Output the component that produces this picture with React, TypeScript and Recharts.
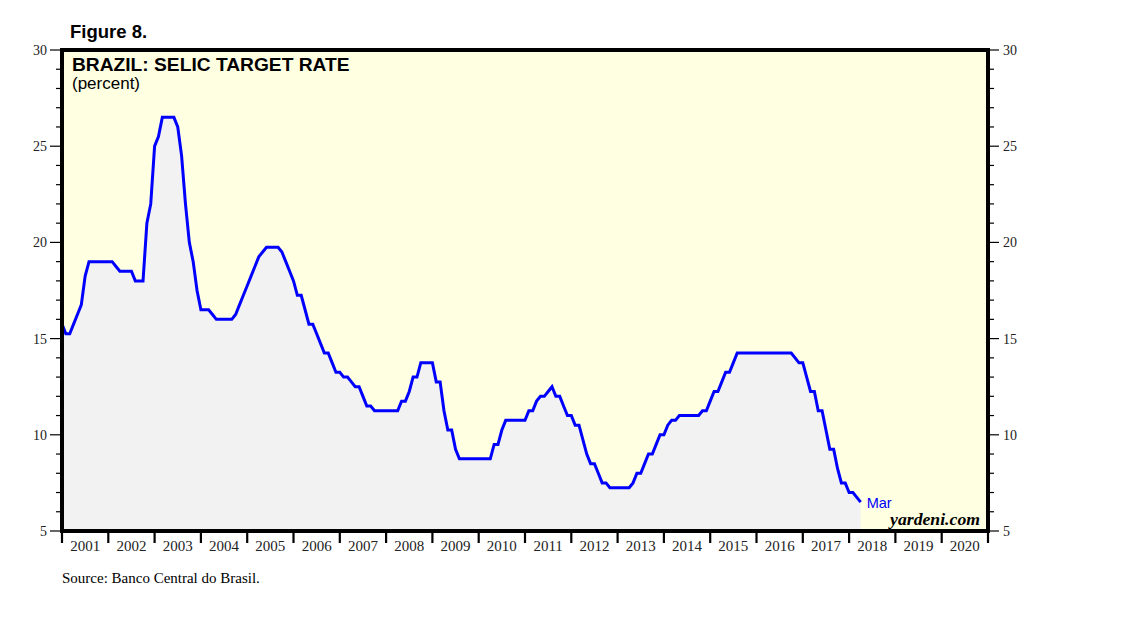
import React from "react";
import {
  Area,
  CartesianGrid,
  ComposedChart,
  ReferenceArea,
  XAxis,
  YAxis,
} from "recharts";

// Selic target rate, value at end of each month, starting Dec 2000
const firstYear = 2000;
const firstMonth = 12;
const selicValues = [
  15.75,
  15.25, 15.25, 15.75, 16.25, 16.75, 18.25, 19, 19, 19, 19, 19, 19,
  19, 18.75, 18.5, 18.5, 18.5, 18.5, 18, 18, 18, 21, 22, 25,
  25.5, 26.5, 26.5, 26.5, 26.5, 26, 24.5, 22, 20, 19, 17.5, 16.5,
  16.5, 16.5, 16.25, 16, 16, 16, 16, 16, 16.25, 16.75, 17.25, 17.75,
  18.25, 18.75, 19.25, 19.5, 19.75, 19.75, 19.75, 19.75, 19.5, 19, 18.5, 18,
  17.25, 17.25, 16.5, 15.75, 15.75, 15.25, 14.75, 14.25, 14.25, 13.75, 13.25, 13.25,
  13, 13, 12.75, 12.5, 12.5, 12, 11.5, 11.5, 11.25, 11.25, 11.25, 11.25,
  11.25, 11.25, 11.25, 11.75, 11.75, 12.25, 13, 13, 13.75, 13.75, 13.75, 13.75,
  12.75, 12.75, 11.25, 10.25, 10.25, 9.25, 8.75, 8.75, 8.75, 8.75, 8.75, 8.75,
  8.75, 8.75, 8.75, 9.5, 9.5, 10.25, 10.75, 10.75, 10.75, 10.75, 10.75, 10.75,
  11.25, 11.25, 11.75, 12, 12, 12.25, 12.5, 12, 12, 11.5, 11, 11,
  10.5, 10.5, 9.75, 9, 8.5, 8.5, 8, 7.5, 7.5, 7.25, 7.25, 7.25,
  7.25, 7.25, 7.25, 7.5, 8, 8, 8.5, 9, 9, 9.5, 10, 10,
  10.5, 10.75, 10.75, 11, 11, 11, 11, 11, 11, 11.25, 11.25, 11.75,
  12.25, 12.25, 12.75, 13.25, 13.25, 13.75, 14.25, 14.25, 14.25, 14.25, 14.25, 14.25,
  14.25, 14.25, 14.25, 14.25, 14.25, 14.25, 14.25, 14.25, 14.25, 14, 13.75, 13.75,
  13, 12.25, 12.25, 11.25, 11.25, 10.25, 9.25, 9.25, 8.25, 7.5, 7.5, 7,
  7, 6.75, 6.5,
];

const yearTicks = [
  2001, 2002, 2003, 2004, 2005, 2006, 2007, 2008, 2009, 2010,
  2011, 2012, 2013, 2014, 2015, 2016, 2017, 2018, 2019, 2020, 2021,
];
const yearLabels = [
  "2001", "2002", "2003", "2004", "2005", "2006", "2007", "2008", "2009", "2010",
  "2011", "2012", "2013", "2014", "2015", "2016", "2017", "2018", "2019", "2020",
];
const rateTicks = [
  5, 6, 7, 8, 9, 10, 11, 12, 13, 14, 15, 16, 17, 18, 19, 20,
  21, 22, 23, 24, 25, 26, 27, 28, 29, 30,
];
const lastLabel = "Mar";

// month end -> fractional year (end of Dec 2000 = 2001.0)
const data = selicValues.map((v, i) => {
  const m = firstMonth + i;
  return { t: firstYear + m / 12, rate: v };
});
const labelTicks = yearLabels.map((_, i) => yearTicks[i] + 0.5);
const xDomain = [yearTicks[0], yearTicks[yearTicks.length - 1]];
const yDomain = [rateTicks[0], rateTicks[rateTicks.length - 1]];

const serif = "'Liberation Serif', 'Times New Roman', serif";
const sans = "'Liberation Sans', Arial, Helvetica, sans-serif";

const LeftTick = ({ x, y, payload }: any) => {
  const major = payload.value % 5 === 0;
  return (
    <g>
      <line x1={x - (major ? 12 : 6)} x2={x} y1={y} y2={y} stroke="#000" strokeWidth={1.2} />
      {major && (
        <text x={x - 15} y={y} dy="0.35em" textAnchor="end" fontFamily={serif} fontSize={14} fill="#222">
          {payload.value}
        </text>
      )}
    </g>
  );
};

const RightTick = ({ x, y, payload }: any) => {
  const major = payload.value % 5 === 0;
  return (
    <g>
      <line x1={x} x2={x + (major ? 11 : 6)} y1={y} y2={y} stroke="#000" strokeWidth={1.2} />
      {major && (
        <text x={x + 15} y={y} dy="0.35em" textAnchor="start" fontFamily={serif} fontSize={14} fill="#222">
          {payload.value}
        </text>
      )}
    </g>
  );
};

const YearTick = ({ x, y }: any) => (
  <line x1={x} x2={x} y1={y - 1} y2={y + 12} stroke="#000" strokeWidth={2.2} />
);

const YearLabel = ({ x, y, payload }: any) => (
  <text x={x} y={y + 19} textAnchor="middle" fontFamily={serif} fontSize={15} fill="#222">
    {Math.floor(payload.value)}
  </text>
);

const EndLabel = (props: any) => {
  if (props.index !== data.length - 1) return null;
  return (
    <text x={props.x + 6} y={props.y} dy="0.38em" fontFamily={sans} fontSize={14.5} fill="#0000ff">
      {lastLabel}
    </text>
  );
};

export default function App() {
  return (
    <div style={{ position: "relative", width: 1130, height: 605 }}>
      <ComposedChart
        width={1060}
        height={580}
        data={data}
        margin={{ top: 42, right: 40, bottom: 26, left: 0 }}
      >
        <CartesianGrid
          xAxisId="a"
          yAxisId="left"
          horizontal={false}
          vertical={false}
          fill="#ffffe2"
          fillOpacity={1}
        />
        <XAxis
          xAxisId="a"
          type="number"
          dataKey="t"
          domain={xDomain}
          allowDataOverflow
          ticks={yearTicks}
          interval={0}
          height={1}
          tickSize={0}
          tickMargin={0}
          tickLine={false}
          axisLine={false}
          tick={<YearTick />}
        />
        <XAxis
          xAxisId="b"
          type="number"
          dataKey="t"
          domain={xDomain}
          allowDataOverflow
          ticks={labelTicks}
          interval={0}
          height={30}
          tickSize={0}
          tickMargin={0}
          tickLine={false}
          axisLine={false}
          tick={<YearLabel />}
        />
        <YAxis
          yAxisId="left"
          type="number"
          domain={yDomain}
          allowDataOverflow
          ticks={rateTicks}
          interval={0}
          width={54}
          tickSize={0}
          tickMargin={0}
          tickLine={false}
          axisLine={false}
          tick={<LeftTick />}
        />
        <YAxis
          yAxisId="right"
          orientation="right"
          type="number"
          domain={yDomain}
          allowDataOverflow
          ticks={rateTicks}
          interval={0}
          width={40}
          tickSize={0}
          tickMargin={0}
          tickLine={false}
          axisLine={false}
          tick={<RightTick />}
        />
        <Area
          xAxisId="a"
          yAxisId="left"
          type="linear"
          dataKey="rate"
          stroke="#0000ff"
          strokeWidth={3}
          fill="#f2f2f2"
          fillOpacity={1}
          dot={false}
          activeDot={false}
          label={EndLabel}
          isAnimationActive={false}
        />
        <ReferenceArea
          xAxisId="a"
          yAxisId="left"
          x1={xDomain[0]}
          x2={xDomain[1]}
          y1={yDomain[0]}
          y2={yDomain[1]}
          fill="none"
          stroke="#000"
          strokeWidth={4}
          ifOverflow="visible"
        />
      </ComposedChart>
      <svg
        width={1130}
        height={605}
        style={{ position: "absolute", left: 0, top: 0, pointerEvents: "none" }}
      >
        <text x={62} y={30} fontFamily={sans} fontWeight="bold" fontSize={18.5} fill="#000">
          Figure 8.
        </text>
        <text x={64} y={63} fontFamily={sans} fontWeight="bold" fontSize={19.2} fill="#000">
          BRAZIL: SELIC TARGET RATE
        </text>
        <text x={64} y={81} fontFamily={sans} fontSize={17} fill="#000">
          (percent)
        </text>
        <text x={972} y={517} textAnchor="end" fontFamily={serif} fontStyle="italic" fontWeight="bold" fontSize={17.7} fill="#000">
          yardeni.com
        </text>
        <text x={54} y={575} fontFamily={serif} fontSize={15} fill="#000">
          Source: Banco Central do Brasil.
        </text>
      </svg>
    </div>
  );
}
